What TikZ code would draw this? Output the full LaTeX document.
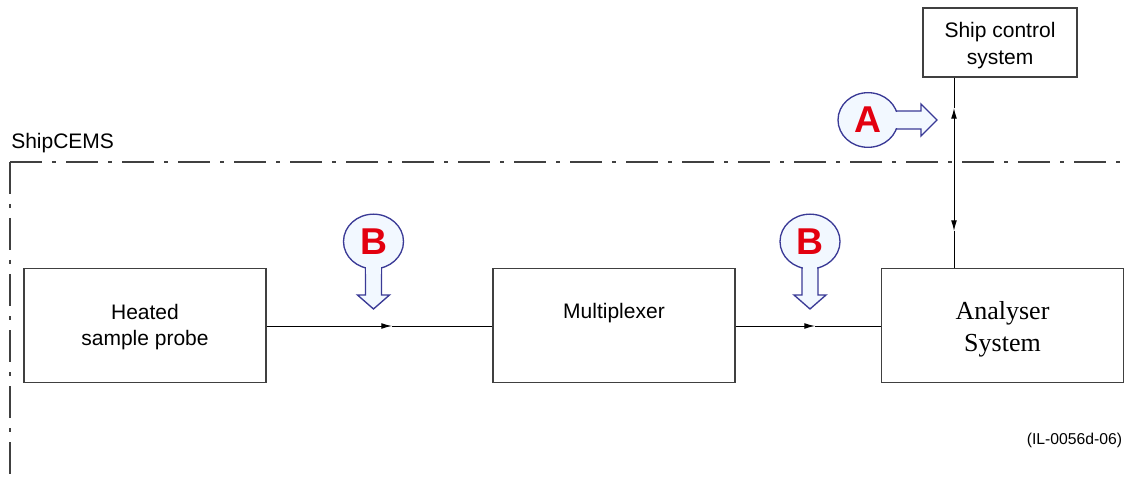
\documentclass[tikz,border=0pt]{standalone}
\usepackage{fontspec}
\setmainfont{Liberation Sans}
\newfontfamily\serifface{Liberation Serif}
\usetikzlibrary{arrows.meta}
\definecolor{cofill}{HTML}{F2F8FF}
\definecolor{coline}{HTML}{3A3A96}
\definecolor{letred}{HTML}{E3000F}
\definecolor{boxline}{HTML}{404040}
\begin{document}
\begin{tikzpicture}[x=0.75pt,y=-0.75pt,
  box/.style={draw=boxline,line width=1.1pt,fill=white,inner sep=0pt,align=center,
    font=\fontsize{15.75}{19.5}\selectfont},
  bigbox/.style={box,minimum width=181.5pt,minimum height=85.5pt},
  lbl/.style={inner sep=0pt,align=center,font=\fontsize{15.75}{19.5}\selectfont},
  conn/.style={line width=0.75pt,black},
  tip/.style={conn,-{Latex[length=8pt,width=4.4pt]}},
  bound/.style={line width=0.8pt,boxline,dash pattern=on 24pt off 7.5pt on 3pt off 7.5pt},
  co/.style={fill=cofill,draw=coline,line width=1pt},
  letter/.style={inner sep=0pt,text=letred,font=\fontsize{28}{28}\selectfont\bfseries}
]
\useasboundingbox (0,0) rectangle (1129,481);

% boundary
\coordinate (corner) at (10,162);
\coordinate (rightend) at (1127,162);
\coordinate (bottomend) at (10,476);
\draw[bound] (corner) -- (rightend);
\draw[bound] (corner) -- (bottomend);
\node[lbl,anchor=south west] (cems) at (11,153) {ShipCEMS};

% boxes
\node[box,minimum width=115.5pt,minimum height=52pt] (ship) at (1000,42.5) {};
\node[lbl,font=\fontsize{15.75}{20}\selectfont] (shiptxt) at ([yshift=-2.2pt]ship.center) {Ship control\\system};
\node[bigbox] (probe) at (145,325.5) {};
\node[lbl] (probetxt) at ([yshift=-1.5pt]probe.center) {Heated\\sample probe};
\node[bigbox] (mux) at (614,325.5) {};
\node[lbl] (muxtxt) at ([yshift=9pt]mux.center) {Multiplexer};
\node[bigbox] (ana) at (1002.5,325.5) {};
\node[lbl,font=\serifface\fontsize{19.5}{24}\selectfont] (anatxt) at ([yshift=-2.5pt]ana.center) {Analyser\\System};

% connectors
\coordinate (t1) at (392,326);
\coordinate (t2) at (815,326);
\draw[tip] (probe.east |- t1) -- (t1);
\draw[conn] (t1) -- (mux.west |- t1);
\draw[tip] (mux.east |- t2) -- (t2);
\draw[conn] (t2) -- (ana.west |- t2);

\coordinate (vu) at (954,108);
\coordinate (vd) at (954,231);
\coordinate (vm) at (954,170);
\draw[conn] (ship.south -| vu) -- (vu);
\draw[tip] (vm) -- (vu);
\draw[tip] (vm) -- (vd);
\draw[conn] (vd) -- (ana.north -| vd);

% callout A
\filldraw[co] (868,111) -- (921,111) -- (921,104) -- (937,120) -- (921,136) -- (921,129) -- (868,129) -- cycle;
\filldraw[co] (868,120) ellipse [x radius=22.5pt, y radius=20.5pt];
\fill[cofill] (890,111.9) rectangle (903,128.1);
\node[letter] (A) at (868,120) {A};

% callout B (1)
\filldraw[co] (365.5,241.5) -- (365.5,295) -- (357.5,295) -- (373.5,309) -- (389.5,295) -- (381.5,295) -- (381.5,241.5) -- cycle;
\filldraw[co] (373.5,241.5) ellipse [x radius=22.5pt, y radius=20.5pt];
\fill[cofill] (366.4,262) rectangle (380.6,274);
\node[letter] (B1) at (373.5,241.5) {B};

% callout B (2)
\filldraw[co] (802,241.5) -- (802,295) -- (794,295) -- (810,309) -- (826,295) -- (818,295) -- (818,241.5) -- cycle;
\filldraw[co] (810,241.5) ellipse [x radius=22.5pt, y radius=20.5pt];
\fill[cofill] (802.9,262) rectangle (817.1,274);
\node[letter] (B2) at (810,241.5) {B};

\node[lbl,font=\fontsize{11.8}{14}\selectfont] (ref) at (1074.5,440) {(IL-0056d-06)};
\end{tikzpicture}
\end{document}
